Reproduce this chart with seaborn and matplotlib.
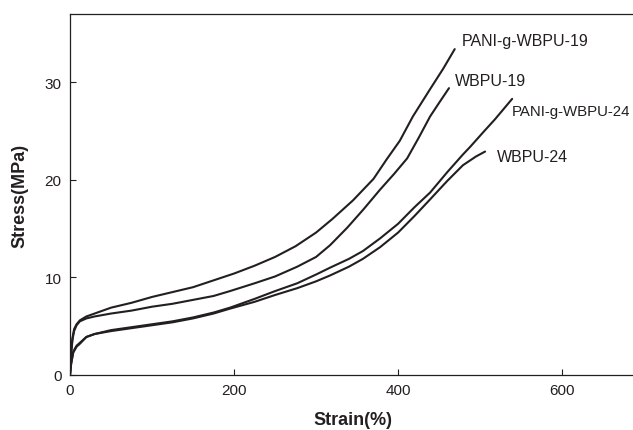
import matplotlib
matplotlib.use("Agg")
import matplotlib.pyplot as plt
import seaborn as sns
import pandas as pd

# stress-strain curves
pani19_strain = [0, 1, 3, 5, 8, 12, 20, 30, 50, 75, 100, 125, 150, 175, 200, 225, 250, 275,
                 300, 320, 345, 370, 386, 402, 418, 439, 455, 469]
pani19_stress = [0, 2.0, 3.8, 4.7, 5.2, 5.6, 6.0, 6.3, 6.9, 7.4, 8.0, 8.5, 9.0, 9.7, 10.4, 11.2, 12.1, 13.2,
                 14.6, 16.0, 17.9, 20.1, 22.1, 24.0, 26.5, 29.3, 31.4, 33.4]

wbpu19_strain = [0, 1, 3, 5, 8, 12, 20, 30, 50, 75, 100, 125, 150, 175, 195, 225, 250, 277,
                 300, 317, 338, 358, 378, 395, 411, 425, 439, 450, 462]
wbpu19_stress = [0, 1.8, 3.6, 4.5, 5.1, 5.5, 5.8, 6.0, 6.3, 6.6, 7.0, 7.3, 7.7, 8.1, 8.6, 9.4, 10.1, 11.1,
                 12.1, 13.3, 15.1, 17.0, 19.0, 20.6, 22.2, 24.3, 26.5, 27.9, 29.4]

pani24_strain = [0, 1, 2, 4, 8, 12, 20, 30, 50, 75, 100, 125, 150, 175, 195, 225, 250, 277,
                 300, 317, 340, 357, 378, 400, 420, 439, 460, 479, 488, 505, 518, 530, 539]
pani24_stress = [0, 1.0, 1.5, 2.4, 3.0, 3.3, 3.9, 4.2, 4.6, 4.9, 5.2, 5.5, 5.9, 6.4, 6.9, 7.8, 8.6, 9.4,
                 10.3, 11.0, 11.9, 12.7, 14.0, 15.5, 17.2, 18.7, 20.8, 22.6, 23.4, 25.0, 26.2, 27.4, 28.3]

wbpu24_strain = [0, 1, 2, 4, 8, 12, 20, 30, 50, 75, 100, 125, 150, 175, 195, 225, 250, 277,
                 300, 317, 340, 357, 378, 400, 420, 439, 460, 479, 495, 506]
wbpu24_stress = [0, 0.9, 1.4, 2.3, 2.9, 3.2, 3.9, 4.2, 4.5, 4.8, 5.1, 5.4, 5.8, 6.3, 6.8, 7.5, 8.2, 8.9,
                 9.6, 10.2, 11.1, 11.9, 13.1, 14.6, 16.3, 18.0, 19.9, 21.5, 22.4, 22.9]

names = ["PANI-g-WBPU-19", "WBPU-19", "PANI-g-WBPU-24", "WBPU-24"]
label_pos = [(478, 34.3), (469, 30.2), (539, 27.1), (521, 22.4)]
label_size = [11.5, 11.5, 10.8, 11.5]

if __name__ == "__main__":
    sns.set_style("ticks")
    plt.rcParams['font.family'] = ['Liberation Sans', 'DejaVu Sans']

    curves = [(pani19_strain, pani19_stress), (wbpu19_strain, wbpu19_stress),
              (pani24_strain, pani24_stress), (wbpu24_strain, wbpu24_stress)]
    frames = []
    for name, (sx, sy) in zip(names, curves):
        frames.append(pd.DataFrame({"Strain": sx, "Stress": sy, "Sample": name}))
    df = pd.concat(frames, ignore_index=True)

    fig = plt.figure(figsize=(6.33, 4.31), dpi=100)
    ax = fig.add_axes([70 / 633, 55 / 431, 566 / 633, 361 / 431])

    sns.lineplot(data=df, x="Strain", y="Stress", units="Sample", estimator=None,
                 sort=False, color="#231f20", linewidth=1.5, legend=False, ax=ax)

    for name, (lx, ly), fs in zip(names, label_pos, label_size):
        ax.text(lx, ly, name, fontsize=fs, ha="left", va="center", color="#231f20",
                clip_on=False)

    ax.set_xlim(0, 690)
    ax.set_ylim(0, 37)
    ax.set_xticks([0, 200, 400, 600])
    ax.set_yticks([0, 10, 20, 30])
    ax.tick_params(direction="in", length=4, width=0.8, labelsize=11, colors="#231f20", pad=6)
    ax.set_xlabel("Strain(%)", fontsize=13, fontweight="bold", labelpad=10, color="#231f20")
    ax.set_ylabel("Stress(MPa)", fontsize=13, fontweight="bold", labelpad=12, color="#231f20")
    for side in ["left", "bottom", "top"]:
        ax.spines[side].set_color("#231f20")
        ax.spines[side].set_linewidth(0.9)
    ax.spines["right"].set_visible(False)

    fig.savefig("out.png", dpi=100)
